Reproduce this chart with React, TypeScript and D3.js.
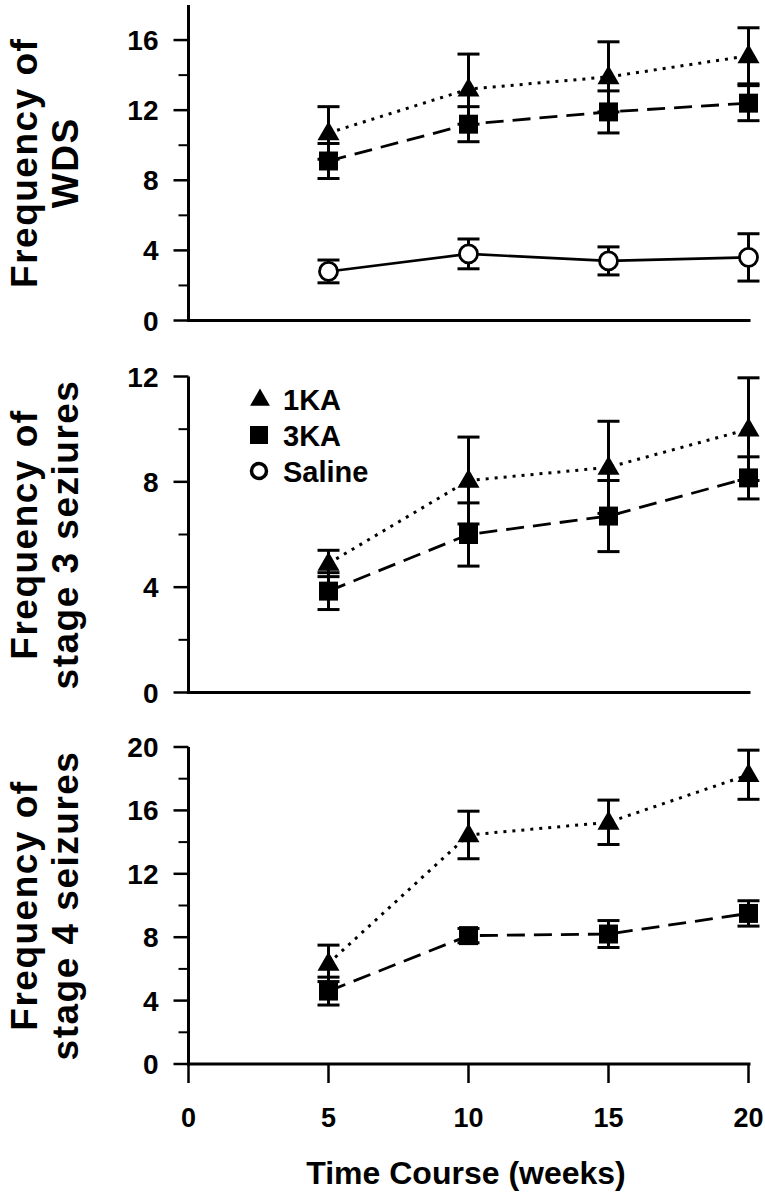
import React from 'react';
import * as d3 from 'd3';

const weeks = [5, 10, 15, 20];
const xTicks = [0, 5, 10, 15, 20];

const seriesNames = ['1KA', '3KA', 'Saline'];

const wdsKA1 = [10.7, 13.2, 13.9, 15.1];
const wdsKA1Err = [1.5, 2.0, 2.0, 1.6];
const wdsKA3 = [9.1, 11.2, 11.9, 12.4];
const wdsKA3Err = [1.0, 1.0, 1.2, 1.0];
const wdsSaline = [2.8, 3.8, 3.4, 3.6];
const wdsSalineErr = [0.65, 0.85, 0.8, 1.35];

const s3KA1 = [4.9, 8.05, 8.55, 10.0];
const s3KA1Err = [0.5, 1.65, 1.75, 1.95];
const s3KA3 = [3.85, 6.0, 6.7, 8.15];
const s3KA3Err = [0.7, 1.2, 1.35, 0.8];

const s4KA1 = [6.35, 14.45, 15.25, 18.25];
const s4KA1Err = [1.15, 1.5, 1.4, 1.55];
const s4KA3 = [4.6, 8.1, 8.2, 9.5];
const s4KA3Err = [0.88, 0.45, 0.85, 0.8];

const wdsTicks = [0, 4, 8, 12, 16];
const s3Ticks = [0, 4, 8, 12];
const s4Ticks = [0, 4, 8, 12, 16, 20];

type Series = { kind: 'tri' | 'sq' | 'circ'; values: number[]; errs: number[] };

const panels = [
  {
    yMax: 18, top: 5, bottom: 320.5, ticks: wdsTicks,
    title: ['Frequency of', 'WDS'],
    series: [
      { kind: 'circ', values: wdsSaline, errs: wdsSalineErr },
      { kind: 'sq', values: wdsKA3, errs: wdsKA3Err },
      { kind: 'tri', values: wdsKA1, errs: wdsKA1Err },
    ] as Series[],
    legend: false, xAxis: false,
  },
  {
    yMax: 12, top: 376.5, bottom: 692.5, ticks: s3Ticks,
    title: ['Frequency of', 'stage 3 seziures'],
    series: [
      { kind: 'sq', values: s3KA3, errs: s3KA3Err },
      { kind: 'tri', values: s3KA1, errs: s3KA1Err },
    ] as Series[],
    legend: true, xAxis: false,
  },
  {
    yMax: 20, top: 747, bottom: 1064, ticks: s4Ticks,
    title: ['Frequency of', 'stage 4 seizures'],
    series: [
      { kind: 'sq', values: s4KA3, errs: s4KA3Err },
      { kind: 'tri', values: s4KA1, errs: s4KA1Err },
    ] as Series[],
    legend: false, xAxis: true,
  },
];

const FONT = 'Liberation Sans, Arial, Helvetica, sans-serif';
const x = d3.scaleLinear().domain([0, 20]).range([188.5, 748.5]);

const triPath = d3.symbol(d3.symbolTriangle, 210)()!;
const sqPath = d3.symbol(d3.symbolSquare, 360)()!;

function Marker({ kind, cx, cy, legend }: { kind: string; cx: number; cy: number; legend?: boolean }) {
  if (kind === 'tri') return <path d={triPath} transform={`translate(${cx},${cy + 1})`} fill="#000" />;
  if (kind === 'sq') return <path d={sqPath} transform={`translate(${cx},${cy})`} fill="#000" />;
  return <circle cx={cx} cy={cy} r={legend ? 7.5 : 9} fill="#fff" stroke="#000" strokeWidth={legend ? 3.5 : 2.8} />;
}

function lineStyle(kind: string) {
  if (kind === 'tri') return { dash: '3,6', width: 3 };
  if (kind === 'sq') return { dash: '18,9', width: 2.8 };
  return { dash: undefined, width: 2.6 };
}

function Panel({ p }: { p: typeof panels[number] }) {
  const y = d3.scaleLinear().domain([0, p.yMax]).range([p.bottom, p.top]);
  const step = p.ticks[1] - p.ticks[0];
  const minor = d3.range(step / 2, p.yMax, step);
  const cy = (p.top + p.bottom) / 2;
  const line = d3.line<number>().x((_, i) => x(weeks[i])).y((d) => y(d));
  return (
    <g>
      {/* axes */}
      <line x1={x(0)} x2={x(0)} y1={p.top} y2={p.bottom + 1.5} stroke="#000" strokeWidth={3} />
      <line x1={x(0) - 1.5} x2={x(20) + 2} y1={p.bottom} y2={p.bottom} stroke="#000" strokeWidth={3.2} />
      {p.ticks.map((t) => (
        <g key={'t' + t}>
          <line x1={x(0) - 15} x2={x(0)} y1={y(t)} y2={y(t)} stroke="#000" strokeWidth={2.5} />
          <text x={x(0) - 30} y={y(t) + 10} textAnchor="end" fontFamily={FONT} fontWeight="bold" fontSize={28}>
            {t}
          </text>
        </g>
      ))}
      {minor.map((t) => (
        <line key={'m' + t} x1={x(0) - 10} x2={x(0)} y1={y(t)} y2={y(t)} stroke="#000" strokeWidth={2} />
      ))}
      {p.xAxis &&
        xTicks.map((t) => (
          <g key={'x' + t}>
            <line x1={x(t)} x2={x(t)} y1={p.bottom} y2={p.bottom + 19} stroke="#000" strokeWidth={2.5} />
            <text x={x(t)} y={1127} textAnchor="middle" fontFamily={FONT} fontWeight="bold" fontSize={27}>
              {t}
            </text>
          </g>
        ))}
      {/* title */}
      <g transform={`translate(0,${cy}) rotate(-90)`}>
        <text x={0} y={37} textAnchor="middle" fontFamily={FONT} fontWeight="bold" fontSize={37} letterSpacing={1.5}>
          {p.title[0]}
        </text>
        <text x={0} y={78} textAnchor="middle" fontFamily={FONT} fontWeight="bold" fontSize={37} letterSpacing={1.5}>
          {p.title[1]}
        </text>
      </g>
      {/* lines */}
      {p.series.map((s, si) => {
        const st = lineStyle(s.kind);
        return (
          <path key={'l' + si} d={line(s.values)!} fill="none" stroke="#000" strokeWidth={st.width} strokeDasharray={st.dash} />
        );
      })}
      {/* error bars */}
      {p.series.map((s, si) =>
        s.values.map((v, i) => {
          const xx = x(weeks[i]);
          const hi = y(v + s.errs[i]);
          const lo = y(v - s.errs[i]);
          return (
            <g key={'e' + si + '-' + i} stroke="#000" strokeWidth={3}>
              <line x1={xx} x2={xx} y1={hi} y2={lo} />
              <line x1={xx - 11} x2={xx + 11} y1={hi} y2={hi} />
              <line x1={xx - 11} x2={xx + 11} y1={lo} y2={lo} />
            </g>
          );
        })
      )}
      {/* markers */}
      {p.series.map((s, si) =>
        s.values.map((v, i) => <Marker key={'k' + si + '-' + i} kind={s.kind} cx={x(weeks[i])} cy={y(v)} />)
      )}
      {p.legend &&
        seriesNames.map((n, i) => {
          const ly = 399 + i * 36;
          const kind = i === 0 ? 'tri' : i === 1 ? 'sq' : 'circ';
          return (
            <g key={'lg' + n}>
              {kind === 'sq' ? (
                <rect x={250} y={ly - 9} width={18} height={18} fill="#000" />
              ) : kind === 'tri' ? (
                <path d={d3.symbol(d3.symbolTriangle, 170)()!} transform={`translate(260,${ly + 1})`} fill="#000" />
              ) : (
                <Marker kind="circ" cx={259} cy={ly} legend />
              )}
              <text x={283} y={ly + 11} fontFamily={FONT} fontWeight="bold" fontSize={29}>
                {n}
              </text>
            </g>
          );
        })}
    </g>
  );
}

export default function App() {
  return (
    <svg
      width={765}
      height={1199}
      style={{ position: 'absolute', left: 0, top: 0, background: '#fff' }}
    >
      <rect width={765} height={1199} fill="#fff" />
      {panels.map((p, i) => (
        <Panel key={i} p={p} />
      ))}
      <text x={466} y={1184} textAnchor="middle" fontFamily={FONT} fontWeight="bold" fontSize={32}>
        Time Course (weeks)
      </text>
    </svg>
  );
}
